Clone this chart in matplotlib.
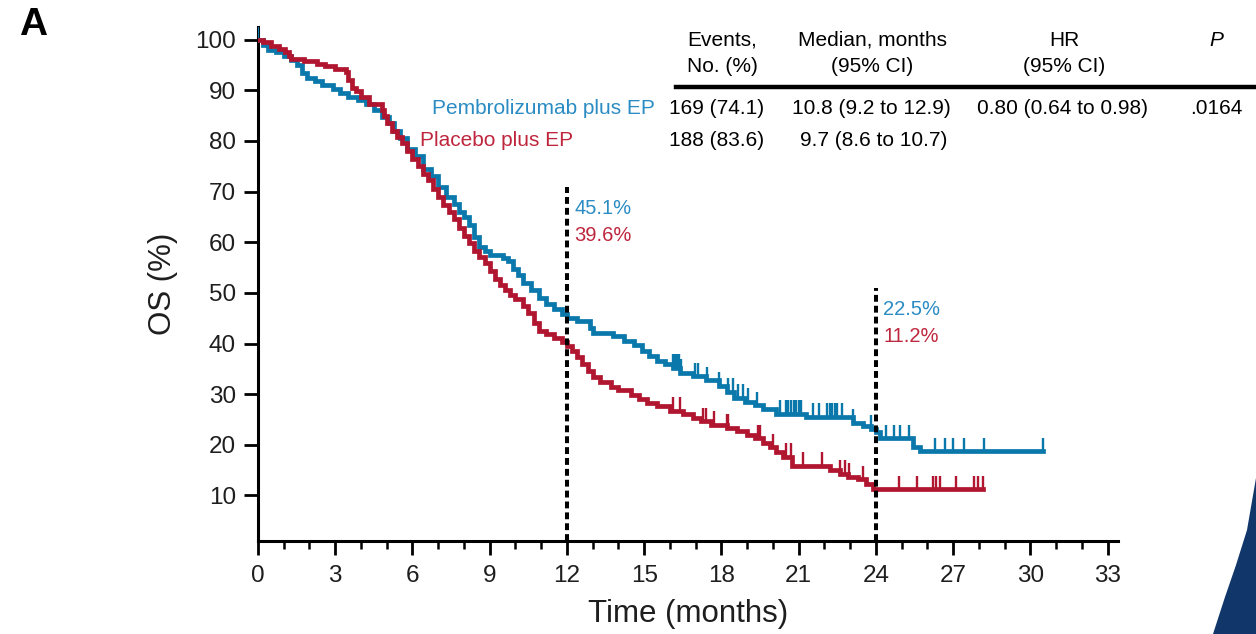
import numpy as np
import matplotlib.pyplot as plt
from matplotlib.lines import Line2D
from matplotlib.patches import Polygon

plt.rcParams['font.family'] = ['Liberation Sans', 'DejaVu Sans']

# Kaplan-Meier steps: time (months) and OS (%) after each drop
pembro_t = [0, 0.2, 0.4, 0.7, 1.0, 1.3, 1.5, 1.7, 1.9, 2.2, 2.5, 2.9, 3.2, 3.5, 3.9,
            4.2, 4.5, 4.8, 5.1, 5.3, 5.5, 5.8, 6.1, 6.4, 6.7, 7.0, 7.3, 7.6, 7.8, 8.0,
            8.2, 8.4, 8.6, 8.8, 9.0, 9.5, 9.7, 9.9, 10.1, 10.3, 10.6, 10.9, 11.2, 11.5,
            11.8, 12.0, 12.4, 12.9, 13.0, 13.8, 14.2, 14.6, 14.9, 15.2, 15.5, 15.8,
            16.1, 16.4, 16.9, 17.4, 17.9, 18.2, 18.5, 18.9, 19.3, 19.6, 20.1, 21.3,
            23.1, 23.5, 23.8, 24.0, 24.15, 25.45, 25.7]
pembro_s = [100, 99, 98, 97.5, 96.8, 96, 95, 93.5, 92.5, 91.8, 91, 90.2, 89.5, 88.7, 88,
            87.2, 86.2, 84.8, 83.5, 82, 80.5, 78.4, 77, 74.5, 73, 71, 69, 67.5, 66, 65,
            63.4, 61, 59, 58.3, 57.5, 56.8, 56.2, 54.8, 53.5, 52, 50.5, 49, 47.8, 46.8,
            45.8, 45.1, 44.5, 43, 42, 41.4, 40.5, 39.8, 38.5, 37.5, 36.6, 36,
            35.2, 34.2, 33.5, 32.7, 31.6, 30.4, 29.3, 28.5, 27.8, 27, 26.1, 25.5,
            24.4, 23.8, 23.1, 22.5, 21.3, 19.5, 18.7]
pembro_end = 30.5
pembro_censor = [0.0, 16.1, 16.18, 16.26, 16.34, 16.42, 16.96, 17.08, 17.43, 17.9, 18.25,
                 18.45, 18.63, 18.83, 19.03, 19.37, 20.26, 20.5, 20.6, 20.7, 20.8, 20.9,
                 21.0, 21.1, 21.55, 21.8, 22.1, 22.2, 22.3, 22.4, 22.5, 22.7, 23.1, 23.8,
                 24.4, 24.7, 24.95, 25.3, 26.3, 26.7, 27.0, 27.4, 28.2, 30.5]

placebo_t = [0, 0.2, 0.5, 0.8, 1.05, 1.2, 1.3, 1.8, 2.3, 2.6, 3.0, 3.4, 3.5, 3.65, 3.8,
             4.0, 4.3, 4.8, 4.9, 5.0, 5.2, 5.4, 5.6, 5.8, 6.0, 6.2, 6.4, 6.6, 6.8, 7.0,
             7.2, 7.4, 7.6, 7.8, 8.0, 8.2, 8.4, 8.6, 8.8, 9.0, 9.2, 9.4, 9.6, 9.8, 10.0,
             10.3, 10.5, 10.7, 10.9, 11.2, 11.5, 11.8, 12.0, 12.2, 12.4, 12.6, 12.8,
             13.0, 13.3, 13.7, 14.0, 14.5, 14.8, 15.1, 15.5, 16.0, 16.5, 16.9, 17.2,
             17.6, 18.2, 18.6, 19.0, 19.3, 19.6, 19.9, 20.1, 20.4, 20.75, 22.2, 22.6,
             22.9, 23.3, 23.6, 23.9]
placebo_s = [100, 99.5, 98.8, 98.2, 97.6, 96.8, 96.2, 95.8, 95.2, 94.8, 94.2, 93.6, 92,
             90.5, 89.8, 88.6, 87.3, 86.2, 85, 83.5, 82, 80.8, 79.5, 78, 76.5, 75, 73.5,
             72.3, 70.5, 69, 67.4, 66, 64.5, 62.8, 61.2, 59.8, 58.2, 57, 55.8, 54.3,
             52.8, 51.5, 50.5, 49.6, 48.8, 47.5, 46, 44, 42.5, 41.8, 41, 40.3, 39.6,
             38.5, 37.3, 36, 34.5, 33.3, 32.4, 31.5, 30.8, 29.8, 29, 28.2, 27.6, 26.7,
             26.0, 25.3, 24.6, 24.0, 23.4, 22.7, 22.0, 21.3, 20.4, 19.5, 18.6, 17.6,
             15.9, 15.0, 14.3, 13.7, 13.2, 12.3, 11.2]
placebo_end = 28.15
placebo_censor = [16.1, 16.4, 17.3, 17.4, 17.7, 18.2, 18.25, 19.4, 19.5, 20.0, 20.5,
                  20.7, 21.15, 21.9, 22.6, 22.8, 22.95, 23.5, 24.9, 25.6, 26.2, 26.35,
                  26.5, 27.1, 27.8, 27.95, 28.15]

landmark_months = [12, 24]
landmark_top = [71, 51]
landmark_pembro = ['45.1%', '22.5%']
landmark_placebo = ['39.6%', '11.2%']

arm_names = ['Pembrolizumab plus EP', 'Placebo plus EP']
events = ['169 (74.1)', '188 (83.6)']
medians = ['10.8 (9.2 to 12.9)', '9.7 (8.6 to 10.7)']
hr_text = '0.80 (0.64 to 0.98)'
p_text = '.0164'

BLUE = '#0a78ab'
RED = '#b0162f'
BLUE_TXT = '#2b8cc4'
RED_TXT = '#be263d'
INK = '#1e1e1e'

W, H = 1256, 634


def fpos(x, y):
    # pixel position -> figure fraction
    return x / W, 1 - y / H


def draw_arm(ax, t, s, t_end, censor, color):
    t = np.asarray(t, float)
    s = np.asarray(s, float)
    ax.step(np.append(t, t_end), np.append(s, s[-1]), where='post',
            color=color, lw=3.4, solid_joinstyle='miter', zorder=3)
    c = np.asarray(censor, float)
    lvl = s[np.searchsorted(t, c, side='right') - 1]
    ax.vlines(c, lvl, lvl + 2.7, color=color, lw=1.7, zorder=3)


fig = plt.figure(figsize=(W / 100, H / 100), dpi=100)
ax = fig.add_axes([258 / W, 1 - 541 / H, 860 / W, 514 / H])

draw_arm(ax, pembro_t, pembro_s, pembro_end, pembro_censor, BLUE)
draw_arm(ax, placebo_t, placebo_s, placebo_end, placebo_censor, RED)

# landmark lines with survival rates
ax.vlines(landmark_months, 1, landmark_top, color='black', lw=2.9,
          linestyles=[(0, (1.7, 1.0))], zorder=4)
for m, top, a, b in zip(landmark_months, landmark_top, landmark_pembro, landmark_placebo):
    ax.text(m + 0.28, top - 4.3, a, color=BLUE_TXT, fontsize=14.5, va='center', ha='left')
    ax.text(m + 0.28, top - 9.6, b, color=RED_TXT, fontsize=14.5, va='center', ha='left')

ax.set_xlim(0, 33.4)
ax.set_ylim(1, 102.5)
ax.set_xticks(range(0, 34, 3))
ax.set_xticks(range(0, 34, 1), minor=True)
ax.set_yticks(range(10, 101, 10))
for side in ['top', 'right']:
    ax.spines[side].set_visible(False)
for side in ['left', 'bottom']:
    ax.spines[side].set_linewidth(2.2)
ax.tick_params(axis='x', which='major', length=10, width=2, labelsize=17.5, pad=7,
               labelcolor=INK)
ax.tick_params(axis='x', which='minor', length=6, width=1.8)
ax.tick_params(axis='y', length=10, width=2, labelsize=17.5, pad=6, labelcolor=INK)
ax.set_xlabel('Time (months)', fontsize=22.5, labelpad=9, color=INK)
ax.set_ylabel('OS (%)', fontsize=22.5, labelpad=12, color=INK)

# summary table
fs = 15
for x, lines in [(722, ['Events,', 'No. (%)']), (872, ['Median, months', '(95% CI)']),
                 (1064, ['HR', '(95% CI)'])]:
    fig.text(*fpos(x, 40), lines[0], ha='center', va='center', fontsize=fs)
    fig.text(*fpos(x, 66), lines[1], ha='center', va='center', fontsize=fs)
fig.text(*fpos(1216, 40), 'P', ha='center', va='center', fontsize=fs, style='italic')
fig.add_artist(Line2D([676 / W, 1], [1 - 87 / H] * 2, color='black', lw=3.2))

row_y = [108, 141]
fig.text(*fpos(655, row_y[0]), arm_names[0], ha='right', va='center', fontsize=fs,
         color=BLUE_TXT)
fig.text(*fpos(420, row_y[1]), arm_names[1], ha='left', va='center', fontsize=fs,
         color=RED_TXT)
for y, ev, med, mx in zip(row_y, events, medians, [792, 800]):
    fig.text(*fpos(669, y), ev, ha='left', va='center', fontsize=fs)
    fig.text(*fpos(mx, y), med, ha='left', va='center', fontsize=fs)
fig.text(*fpos(977, row_y[0]), hr_text, ha='left', va='center', fontsize=fs)
fig.text(*fpos(1190, row_y[0]), p_text, ha='left', va='center', fontsize=fs)

# panel letter
fig.text(*fpos(19, 25), 'A', ha='left', va='center', fontsize=28, fontweight='bold')

# page-corner decoration
corner = [fpos(1256, 478), fpos(1247, 530), fpos(1236, 565), fpos(1225, 597),
          fpos(1213, 634), fpos(1256, 634)]
fig.add_artist(Polygon(corner, closed=True, transform=fig.transFigure,
                       facecolor='#11376a', edgecolor='none'))

fig.savefig('out.png', dpi=100)
